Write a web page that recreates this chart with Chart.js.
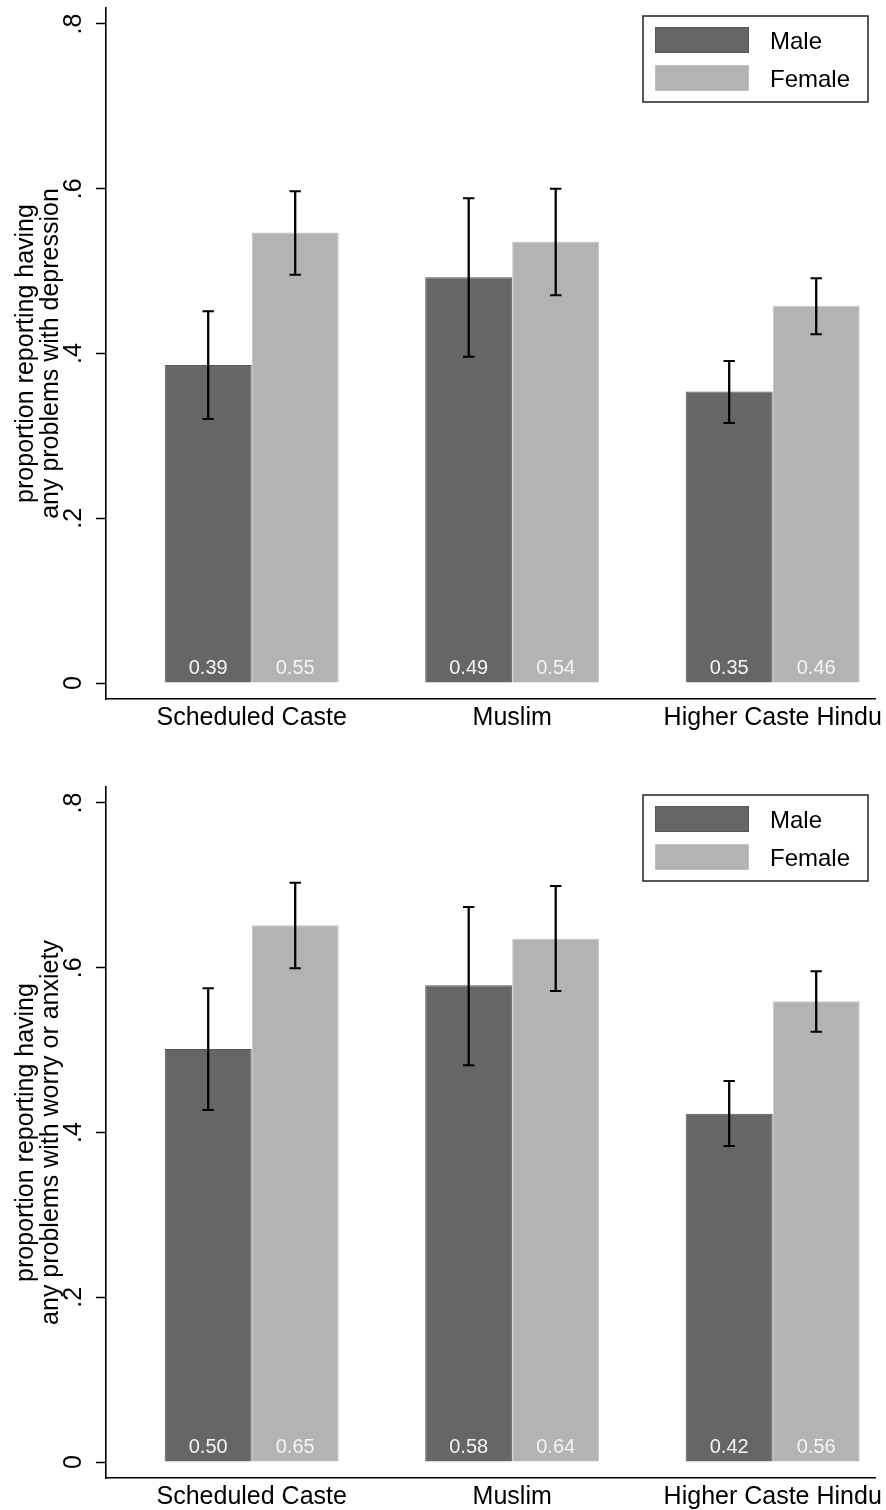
<!DOCTYPE html>
<html><head><meta charset="utf-8">
<script src="https://cdn.jsdelivr.net/npm/chart.js@4"></script>
<style>
html,body{margin:0;padding:0;background:#fff;overflow:hidden;width:886px;height:1510px;}
#c1{position:absolute;left:0;top:0;}
#c2{position:absolute;left:0;top:779px;}
</style></head><body>
<canvas id="c1" width="886" height="779"></canvas>
<canvas id="c2" width="886" height="731"></canvas>
<script>
const categories = ['Scheduled Caste', 'Muslim', 'Higher Caste Hindu'];
const seriesNames = ['Male', 'Female'];
const yTickValues = [0, 0.2, 0.4, 0.6, 0.8];
const yTickLabels = ['0', '.2', '.4', '.6', '.8'];

// Panel 1: depression
const depTitle = ['proportion reporting having', 'any problems with depression'];
const depMale = [0.386, 0.4927, 0.354];
const depFemale = [0.547, 0.536, 0.458];
const depMaleLo = [0.3206, 0.3962, 0.3157];
const depMaleHi = [0.4513, 0.5886, 0.391];
const depFemaleLo = [0.4957, 0.4708, 0.4234];
const depFemaleHi = [0.597, 0.5999, 0.4913];

// Panel 2: worry or anxiety
const anxTitle = ['proportion reporting having', 'any problems with worry or anxiety'];
const anxMale = [0.5014, 0.5787, 0.4229];
const anxFemale = [0.6515, 0.6353, 0.5593];
const anxMaleLo = [0.4273, 0.4816, 0.3836];
const anxMaleHi = [0.575, 0.6738, 0.4625];
const anxFemaleLo = [0.5993, 0.5718, 0.5224];
const anxFemaleHi = [0.7033, 0.6993, 0.5957];

const FONT = '"Liberation Sans", Arial, Helvetica, sans-serif';
const maleFill = '#666666', maleBorder = '#575757';
const femaleFill = '#b3b3b3', femaleBorder = '#c2c2c2';

const overlayPlugin = {
  id: 'overlay',
  afterDatasetsDraw(chart) {
    const ctx = chart.ctx;
    const ys = chart.scales.y;
    const base = ys.getPixelForValue(0);
    chart.data.datasets.forEach((ds, di) => {
      const meta = chart.getDatasetMeta(di);
      meta.data.forEach((bar, j) => {
        ctx.save();
        ctx.fillStyle = '#f4f4f4';
        ctx.font = '20px ' + FONT;
        ctx.textAlign = 'center';
        ctx.textBaseline = 'alphabetic';
        ctx.fillText(ds.data[j].y.toFixed(2), bar.x, base - 9);
        const top = ys.getPixelForValue(ds.errHi[j]);
        const bot = ys.getPixelForValue(ds.errLo[j]);
        ctx.strokeStyle = '#000';
        ctx.lineWidth = 2.3;
        ctx.beginPath(); ctx.moveTo(bar.x, top); ctx.lineTo(bar.x, bot); ctx.stroke();
        ctx.lineWidth = 2;
        ctx.beginPath();
        ctx.moveTo(bar.x - 5.7, top); ctx.lineTo(bar.x + 5.7, top);
        ctx.moveTo(bar.x - 5.7, bot); ctx.lineTo(bar.x + 5.7, bot);
        ctx.stroke();
        ctx.restore();
      });
    });
    // legend box
    const ca = chart.chartArea;
    const bx = ca.right - 232, by = ca.top + 8, bw = 225, bh = 86;
    ctx.save();
    ctx.fillStyle = '#fff';
    ctx.fillRect(bx, by, bw, bh);
    ctx.strokeStyle = '#222';
    ctx.lineWidth = 1.5;
    ctx.strokeRect(bx, by, bw, bh);
    chart.data.datasets.forEach((ds, di) => {
      const sy = by + 11 + di * 38;
      ctx.fillStyle = ds.backgroundColor;
      ctx.fillRect(bx + 12, sy, 94, 26);
      ctx.strokeStyle = ds.borderColor;
      ctx.lineWidth = 1;
      ctx.strokeRect(bx + 12.5, sy + 0.5, 93, 25);
      ctx.fillStyle = '#000';
      ctx.font = '24px ' + FONT;
      ctx.textAlign = 'left';
      ctx.textBaseline = 'alphabetic';
      ctx.fillText(ds.label, bx + 127, sy + 22);
    });
    ctx.restore();
  }
};

function makeChart(canvasId, title, male, female, maleLo, maleHi, femaleLo, femaleHi) {
  const canvas = document.getElementById(canvasId);
  const H = canvas.height;
  return new Chart(canvas, {
    type: 'bar',
    data: {
      datasets: [
        { label: seriesNames[0], data: male.map((v, i) => ({x: i + 1, y: v})),
          errLo: maleLo, errHi: maleHi,
          backgroundColor: maleFill, borderColor: maleBorder, borderWidth: 1,
          categoryPercentage: 0.668, barPercentage: 1 },
        { label: seriesNames[1], data: female.map((v, i) => ({x: i + 1, y: v})),
          errLo: femaleLo, errHi: femaleHi,
          backgroundColor: femaleFill, borderColor: femaleBorder, borderWidth: 1,
          categoryPercentage: 0.668, barPercentage: 1 }
      ]
    },
    options: {
      responsive: false,
      animation: false,
      devicePixelRatio: 1,
      layout: { padding: { left: 0, right: 11, top: 8, bottom: 0 } },
      plugins: { legend: { display: false }, tooltip: { enabled: false } },
      scales: {
        x: {
          type: 'linear', min: 0.4407, max: 3.3927, offset: false,
          grid: { display: true, drawOnChartArea: false, drawTicks: false, offset: false },
          border: { display: true, color: '#000', width: 1.6 },
          afterBuildTicks: (s) => { s.ticks = categories.map((c, i) => ({ value: i + 1 })); },
          afterFit: (s) => { s.height = H - 699; s.paddingLeft = 0; s.paddingRight = 0; },
          ticks: {
            autoSkip: false, maxRotation: 0, minRotation: 0, padding: 4,
            color: '#000', font: { family: FONT, size: 25 },
            callback: (v) => categories[Math.round(v) - 1]
          }
        },
        y: {
          type: 'linear', min: -0.0194, max: 0.8194,
          grid: { display: true, drawOnChartArea: false, drawTicks: true, tickLength: 10, tickColor: '#000', tickWidth: 1.5 },
          border: { display: true, color: '#000', width: 1.6 },
          afterBuildTicks: (s) => { s.ticks = yTickValues.map(v => ({ value: v })); },
          afterFit: (s) => { s.width = 106; s.paddingTop = 0; s.paddingBottom = 0; },
          title: { display: true, text: title, color: '#000', font: { family: FONT, size: 25, lineHeight: 1 }, padding: { top: 13.5, bottom: 0 } },
          ticks: {
            autoSkip: false, minRotation: 90, maxRotation: 90, crossAlign: 'center', padding: 11.6,
            color: '#000', font: { family: FONT, size: 25 },
            callback: (v, i) => yTickLabels[i]
          }
        }
      }
    },
    plugins: [overlayPlugin]
  });
}

makeChart('c1', depTitle, depMale, depFemale, depMaleLo, depMaleHi, depFemaleLo, depFemaleHi);
makeChart('c2', anxTitle, anxMale, anxFemale, anxMaleLo, anxMaleHi, anxFemaleLo, anxFemaleHi);
</script>
</body></html>
